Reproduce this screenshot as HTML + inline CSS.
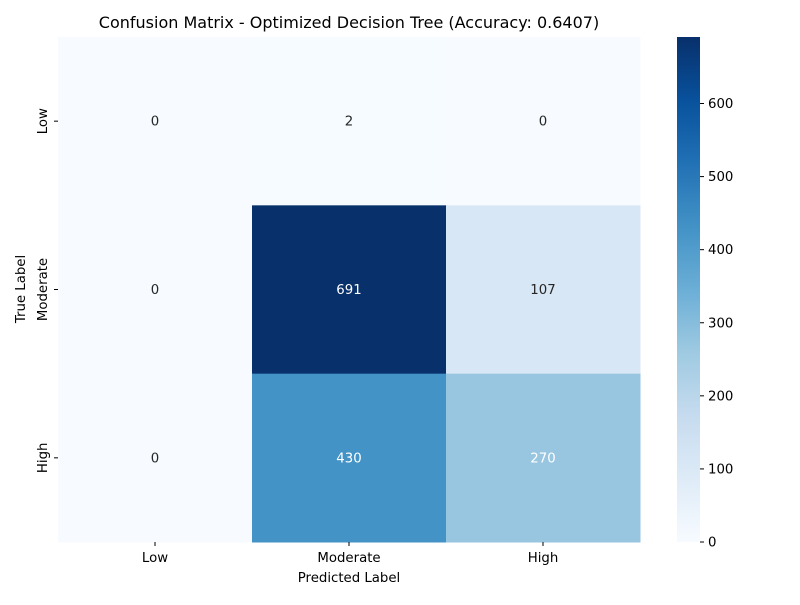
<!DOCTYPE html>
<html><head><meta charset="utf-8"><style>
body{margin:0;background:#fff;}
svg text{font-family:"DejaVu Sans","Liberation Sans",sans-serif;}
</style></head><body>
<svg id="chart" width="800" height="600" xmlns="http://www.w3.org/2000/svg">
<defs><linearGradient id="cbgrad" x1="0" y1="1" x2="0" y2="0">
<stop offset="0" stop-color="#f7fbff"/><stop offset="0.125" stop-color="#deebf7"/><stop offset="0.25" stop-color="#c6dbef"/><stop offset="0.375" stop-color="#9ecae1"/><stop offset="0.5" stop-color="#6baed6"/><stop offset="0.625" stop-color="#4292c6"/><stop offset="0.75" stop-color="#2171b5"/><stop offset="0.875" stop-color="#08519c"/><stop offset="1" stop-color="#08306b"/>
</linearGradient></defs>
<text x="349" y="28" font-size="16" text-anchor="middle">Confusion Matrix - Optimized Decision Tree (Accuracy: 0.6407)</text>
<g id="cells"></g>
<text x="349" y="582" font-size="13.3" text-anchor="middle">Predicted Label</text>
<text transform="translate(25,289) rotate(-90)" font-size="13.3" text-anchor="middle">True Label</text>
<rect x="677" y="37" width="23" height="505" fill="url(#cbgrad)"/>
<g id="cbticks"></g>
</svg>
<script>
const categories=["Low","Moderate","High"];
const row0=[0,2,0];
const row1=[0,691,107];
const row2=[0,430,270];
const cbTicks=[0,100,200,300,400,500,600];
const rows=[row0,row1,row2];
const L=58,T=37,W=582,H=505;
const vmax=Math.max(...rows.flat()),vmin=0;
const stops=["#f7fbff","#deebf7","#c6dbef","#9ecae1","#6baed6","#4292c6","#2171b5","#08519c","#08306b"].map(h=>[1,3,5].map(i=>parseInt(h.substr(i,2),16)));
function color(v){let t=(v-vmin)/(vmax-vmin)*8;let i=Math.min(7,Math.floor(t));let f=t-i;const c=stops[i].map((a,k)=>Math.round(a+(stops[i+1][k]-a)*f));return {c:`rgb(${c})`,lum:(0.299*c[0]+0.587*c[1]+0.114*c[2])/255};}
const NS="http://www.w3.org/2000/svg";
const svg=document.getElementById('chart'),g=document.getElementById('cells'),cb=document.getElementById('cbticks');
const cw=W/categories.length,ch=H/categories.length;
function mk(tag,attrs,parent){const e=document.createElementNS(NS,tag);for(const k in attrs)e.setAttribute(k,attrs[k]);parent.appendChild(e);return e;}
rows.forEach((r,i)=>r.forEach((v,j)=>{
 const col=color(v);
 const rc=mk('rect',{x:L+j*cw,y:T+i*ch,width:cw+0.5,height:ch+0.5,fill:col.c},g);
 
 
 const tx=mk('text',{x:L+(j+.5)*cw,y:T+(i+.5)*ch+4.5,'font-size':13.3,'text-anchor':'middle',fill:col.lum<0.8?'#fff':'#262626'},g);
 tx.textContent=v;
 
 
}));
categories.forEach((c,k)=>{
 const x=L+(k+.5)*cw;
 mk('line',{x1:x,x2:x,y1:T+H,y2:T+H+4,stroke:'#000'},svg);
 const t=mk('text',{x:x,y:T+H+20,'font-size':13.3,'text-anchor':'middle'},svg);t.textContent=c;
 
 
 const y=T+(k+.5)*ch;
 mk('line',{x1:L-4,x2:L,y1:y,y2:y,stroke:'#000'},svg);
 const t2=mk('text',{transform:`translate(${L-11},${y}) rotate(-90)`,'font-size':13.3,'text-anchor':'middle'},svg);t2.textContent=c;
 
 
});
cbTicks.forEach(v=>{
 const y=542-(v-vmin)/(vmax-vmin)*505;
 mk('line',{x1:700,x2:704,y1:y,y2:y,stroke:'#000'},cb);
 const t=mk('text',{x:708,y:y+4.5,'font-size':13.3},cb);t.textContent=v;
 
 
});
</script>
</body></html>
